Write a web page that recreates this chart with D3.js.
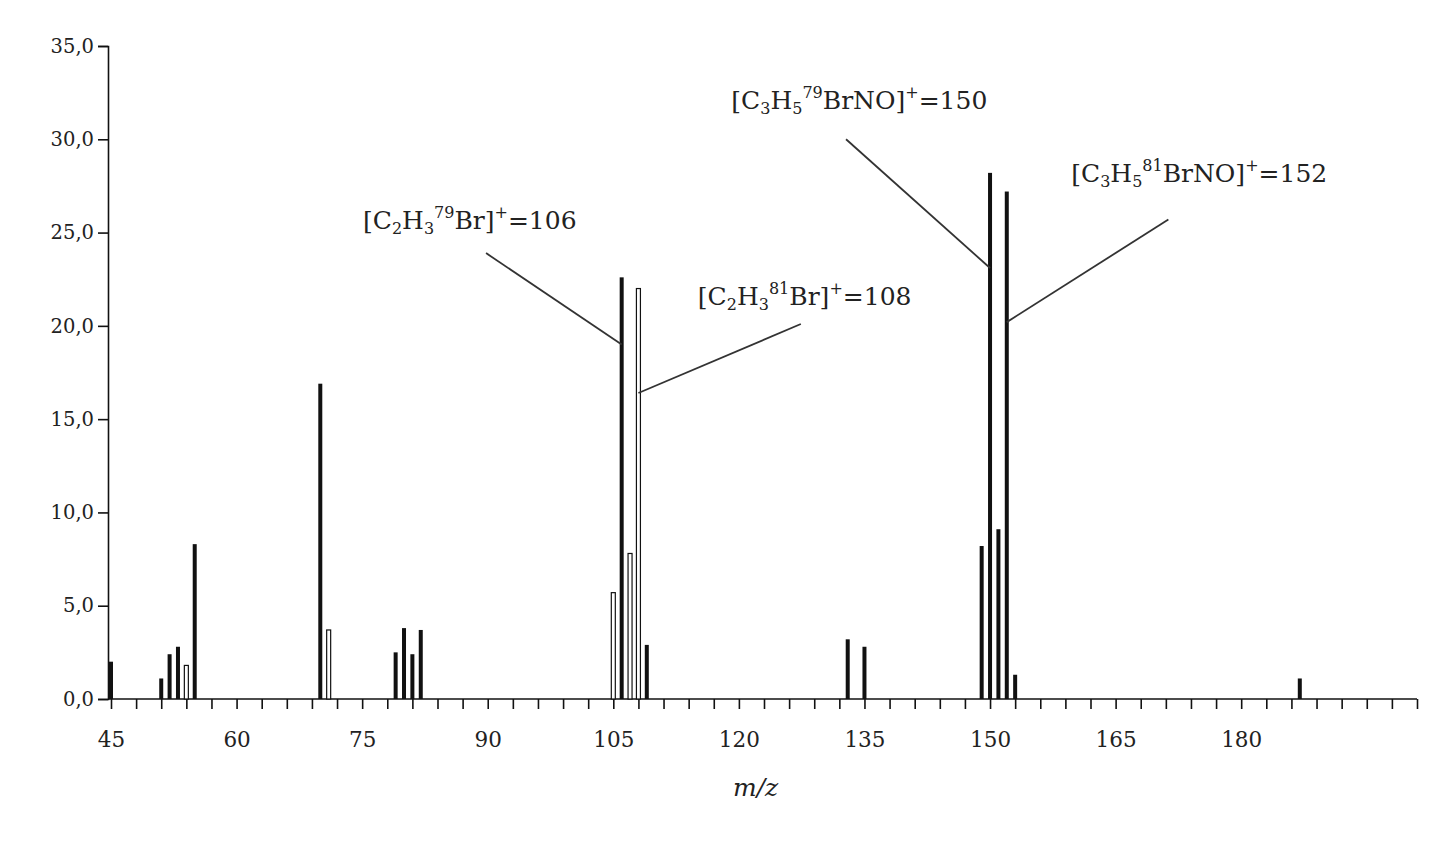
<!DOCTYPE html>
<html><head><meta charset="utf-8">
<script src="https://cdn.jsdelivr.net/npm/d3@7"></script>
<style>body{margin:0;background:#fff}text{font-family:"DejaVu Serif","Liberation Serif",serif;fill:#222}</style>
</head><body><svg id="c" width="1437" height="845"></svg>
<script>
const mz =       [45,51,52,53,54,55,70,71,79,80,81,82,105,106,107,108,109,133,135,149,150,151,152,153,187];
const intensity =[2.0,1.1,2.4,2.8,1.8,8.3,16.9,3.7,2.5,3.8,2.4,3.7,5.7,22.6,7.8,22.0,2.9,3.2,2.8,8.2,28.2,9.1,27.2,1.3,1.1];
const hollow =   [0,0,0,0,1,0,0,1,0,0,0,0,1,0,1,1,0,0,0,0,0,0,0,0,0];
const yTicks = [0,5,10,15,20,25,30,35];
const xLabels = [45,60,75,90,105,120,135,150,165,180];
const annotations = [
 {parts:[["[C",""],["2","sub"],["H",""],["3","sub"],["79","sup"],["Br]",""],["+","sup"],["=106",""]], at:[75.1,25.2], from:[89.8,23.9], to:[106,19.0]},
 {parts:[["[C",""],["2","sub"],["H",""],["3","sub"],["81","sup"],["Br]",""],["+","sup"],["=108",""]], at:[115.1,21.1], from:[127.4,20.1], to:[108,16.4]},
 {parts:[["[C",""],["3","sub"],["H",""],["5","sub"],["79","sup"],["BrNO]",""],["+","sup"],["=150",""]], at:[119.1,31.6], from:[132.8,30.0], to:[150,23.1]},
 {parts:[["[C",""],["3","sub"],["H",""],["5","sub"],["81","sup"],["BrNO]",""],["+","sup"],["=152",""]], at:[159.7,27.7], from:[171.3,25.7], to:[152,20.2]}
];
const svg = d3.select("#c");
const x = d3.scaleLinear().domain([45,201]).range([111,1417]);
const y = d3.scaleLinear().domain([0,35]).range([699,46]);
const ya = d3.axisLeft(y).tickValues(yTicks).tickSize(10).tickFormat(d=>d3.format(".1f")(d).replace(".",","));
const gy = svg.append("g").attr("transform","translate(108,0)").call(ya);
gy.selectAll("text").style("font-size","19.5px").attr("x",-14);
const xt = d3.range(45,202,3);
const xa = d3.axisBottom(x).tickValues(xt).tickSize(10).tickFormat(d=>xLabels.includes(d)?d:"");
const gx = svg.append("g").attr("transform","translate(0,699)").call(xa);
gx.select(".domain").attr("d","M108,0H1417");
gx.selectAll("text").style("font-size","21.5px").attr("y",33);
svg.selectAll(".domain,.tick line").attr("stroke","#111").attr("stroke-width",1.6);
svg.selectAll(".bar").data(mz).join("rect").attr("class","bar")
 .attr("x",(d)=>x(d)-2).attr("width",4)
 .attr("y",(d,i)=>y(intensity[i])).attr("height",(d,i)=>y(0)-y(intensity[i]))
 .attr("fill",(d,i)=>hollow[i]?"#fff":"#111").attr("stroke","#111").attr("stroke-width",(d,i)=>hollow[i]?1.2:0);
annotations.forEach(a=>{
 svg.append("line").attr("x1",x(a.from[0])).attr("y1",y(a.from[1])).attr("x2",x(a.to[0])).attr("y2",y(a.to[1])).attr("stroke","#333").attr("stroke-width",1.8);
 const t = svg.append("text").attr("x",x(a.at[0])).attr("y",y(a.at[1])).style("font-size","25px");
 let off=0;
 a.parts.forEach(p=>{
   const s=t.append("tspan").text(p[0]);
   const target=p[1]==="sub"?5:p[1]==="sup"?-11:0;
   if(p[1]) s.style("font-size","16px");
   s.attr("dy",target-off); off=target;
 });
});
svg.append("text").attr("x",x(122)).attr("y",796).attr("text-anchor","middle").style("font-size","25px").style("font-style","italic").text("m/z");
</script></body></html>
